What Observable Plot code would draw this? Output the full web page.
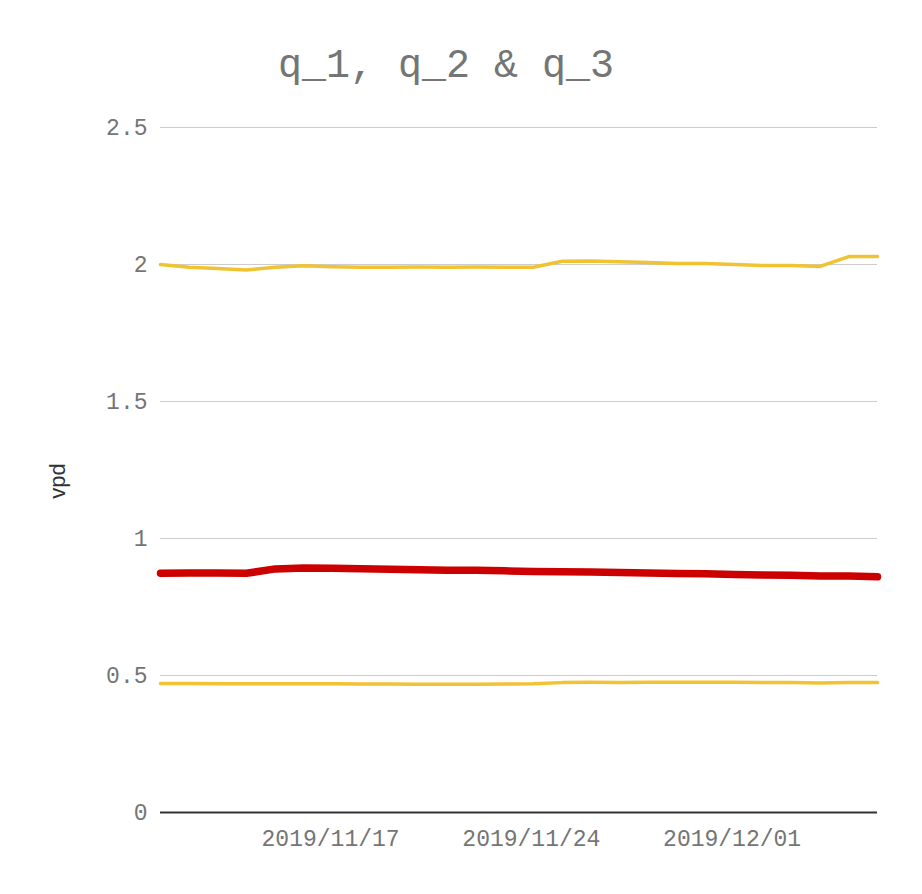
<!DOCTYPE html>
<html>
<head>
<meta charset="utf-8">
<script src="https://cdn.jsdelivr.net/npm/d3@7"></script>
<script src="https://cdn.jsdelivr.net/npm/@observablehq/plot@0.6"></script>
<style>
  html, body { margin: 0; padding: 0; background: #fff; }
  #wrap { position: relative; width: 922px; height: 894px; }
  #title { position: absolute; left: 0; width: 892px; top: 43px; text-align: center;
           font-family: "Liberation Mono", monospace; font-size: 40px; color: #757575; line-height: 48px; }
  #ylab { position: absolute; left: 58px; top: 481px; transform: translate(-50%, -50%) rotate(-90deg);
          font-family: "Liberation Sans", Arial, sans-serif; font-size: 22px; color: #333; white-space: nowrap; }
</style>
</head>
<body>
<div id="wrap">
  <div id="chart"></div>
  <div id="title">q_1, q_2 &amp; q_3</div>
  <div id="ylab">vpd</div>
</div>
<script>
const dates = ["2019-11-11","2019-11-12","2019-11-13","2019-11-14","2019-11-15","2019-11-16","2019-11-17",
  "2019-11-18","2019-11-19","2019-11-20","2019-11-21","2019-11-22","2019-11-23","2019-11-24",
  "2019-11-25","2019-11-26","2019-11-27","2019-11-28","2019-11-29","2019-11-30","2019-12-01",
  "2019-12-02","2019-12-03","2019-12-04","2019-12-05","2019-12-06"];
const q_1 = [0.471,0.471,0.470,0.470,0.470,0.470,0.470,0.469,0.469,0.468,0.468,0.468,0.469,0.470,
  0.474,0.475,0.474,0.475,0.475,0.475,0.475,0.474,0.474,0.473,0.474,0.474];
const q_2 = [0.873,0.874,0.874,0.873,0.889,0.892,0.891,0.890,0.888,0.886,0.884,0.884,0.882,0.880,
  0.879,0.878,0.876,0.874,0.872,0.871,0.869,0.867,0.866,0.863,0.863,0.860];
const q_3 = [2.000,1.990,1.985,1.980,1.990,1.995,1.992,1.990,1.990,1.991,1.990,1.991,1.990,1.990,
  2.012,2.013,2.010,2.007,2.004,2.004,2.000,1.996,1.996,1.993,2.029,2.029];
const yTicks = [0, 0.5, 1, 1.5, 2, 2.5];
const xTicks = ["2019-11-17","2019-11-24","2019-12-01"];

const parse = d3.utcParse("%Y-%m-%d");
const rows = (vals, series) => dates.map((d, i) => ({date: parse(d), value: vals[i], series}));
const d1 = rows(q_1, "q_1"), d2 = rows(q_2, "q_2"), d3s = rows(q_3, "q_3");

const chart = Plot.plot({
  width: 922,
  height: 894,
  marginTop: 127,
  marginBottom: 82,
  marginLeft: 160,
  marginRight: 45,
  style: {fontFamily: "'Liberation Mono', monospace", fontSize: "23px", color: "#757575", background: "#fff"},
  x: {type: "utc", domain: [parse(dates[0]), parse(dates[dates.length - 1])]},
  y: {domain: [0, 2.5]},
  marks: [
    Plot.gridY(yTicks, {stroke: "#cccccc", strokeOpacity: 1, strokeWidth: 1}),
    Plot.axisY(yTicks, {tickSize: 0, tickPadding: 13, tickFormat: d => String(d), label: null, fill: "#757575"}),
    Plot.axisX(xTicks.map(parse), {tickSize: 0, tickPadding: 17, tickFormat: d3.utcFormat("%Y/%m/%d"), label: null, fill: "#757575", dx: -2}),
    Plot.ruleY([0], {stroke: "#333333", strokeWidth: 2}),
    Plot.line(d1, {x: "date", y: "value", stroke: "#f1c232", strokeWidth: 3.5}),
    Plot.line(d3s, {x: "date", y: "value", stroke: "#f1c232", strokeWidth: 3.5}),
    Plot.line(d2, {x: "date", y: "value", stroke: "#cc0000", strokeWidth: 7.5})
  ]
});
document.getElementById("chart").appendChild(chart);
</script>
</body>
</html>
